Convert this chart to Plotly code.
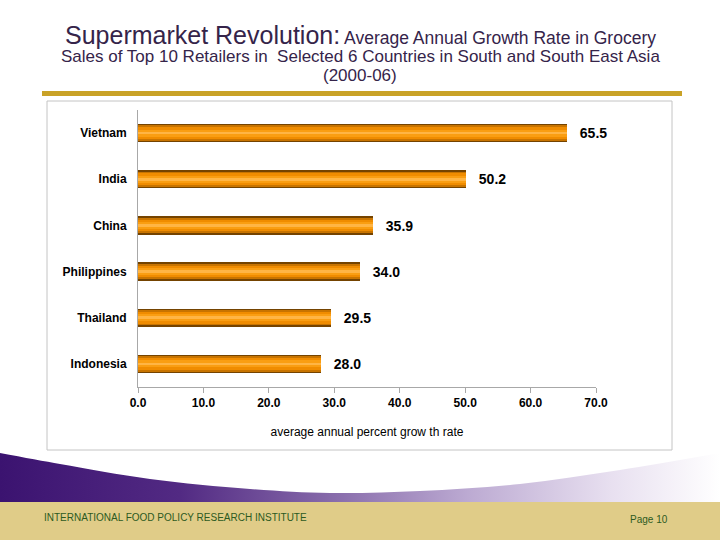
import plotly.graph_objects as go

countries = ["Vietnam", "India", "China", "Philippines", "Thailand", "Indonesia"]
growth = [65.5, 50.2, 35.9, 34.0, 29.5, 28.0]
x_ticks = [0, 10, 20, 30, 40, 50, 60, 70]
x_tick_labels = ["0.0", "10.0", "20.0", "30.0", "40.0", "50.0", "60.0", "70.0"]

W, H = 720, 540
FONT = "Liberation Sans, Arial, sans-serif"

fig = go.Figure()

# bar layers to imitate the cylinder shading
layers = [
    (0.40, "#744300"),
    (0.33, "#c87400"),
    (0.25, "#f08c00"),
    (0.15, "#fa9e12"),
    (0.06, "#ffb545"),
]
for i, (width, color) in enumerate(layers):
    fig.add_trace(go.Bar(
        y=countries, x=growth, orientation="h",
        width=width, marker=dict(color=color, line=dict(width=0)),
        text=[f"\u2002\u2009{v:.1f}" for v in growth] if i == 0 else None,
        textposition="outside" if i == 0 else "none",
        textfont=dict(family=FONT, size=14, color="#000000", weight="bold"),
        cliponaxis=False, hoverinfo="skip", showlegend=False,
        xaxis="x", yaxis="y",
    ))

# decorative purple swoosh above footer (paper-pixel overlay axes)
sw_x = [0, 60, 150, 250, 330, 420, 520, 620, 720]
sw_y = [453, 464, 479, 489, 493, 491, 484, 470, 453]
fig.add_trace(go.Scatter(x=[0, 720], y=[502, 502], mode="lines",
                         line=dict(width=0), xaxis="x2", yaxis="y2",
                         hoverinfo="skip", showlegend=False))
fig.add_trace(go.Scatter(
    x=sw_x, y=sw_y, mode="lines", line=dict(width=0, shape="spline"),
    fill="tonexty",
    fillgradient=dict(type="horizontal", start=0, stop=720,
                      colorscale=[[0, "#3b1370"], [0.25, "#522a83"], [0.45, "#8467a8"],
                                  [0.65, "#bcaad2"], [0.85, "#e8e0f0"], [1, "#ffffff"]]),
    xaxis="x2", yaxis="y2", hoverinfo="skip", showlegend=False))

def px(x):
    return x / W

def py(y):
    return 1 - y / H

shapes = [
    dict(type="rect", xref="paper", yref="paper", x0=0, x1=1, y0=0, y1=py(502),
         fillcolor="#e0cc88", line=dict(width=0), layer="below"),
    dict(type="rect", xref="paper", yref="paper", x0=px(42), x1=px(682), y0=py(96), y1=py(91),
         fillcolor="#c9a227", line=dict(width=0), layer="below"),
    dict(type="rect", xref="paper", yref="paper", x0=px(47), x1=px(672), y0=py(450), y1=py(101),
         line=dict(color="#c4c4c4", width=1), fillcolor="rgba(0,0,0,0)", layer="below"),
]

TITLE_C = "#35244a"
annotations = [
    dict(xref="paper", yref="paper", x=0.5, y=py(35), xanchor="center", yanchor="middle",
         showarrow=False, font=dict(family=FONT, size=17.5, color=TITLE_C),
         text="<span style='font-size:25px'>Supermarket Revolution:</span> Average Annual Growth Rate in Grocery"),
    dict(xref="paper", yref="paper", x=0.5, y=py(56), xanchor="center", yanchor="middle",
         showarrow=False, font=dict(family=FONT, size=17, color=TITLE_C),
         text="Sales of Top 10 Retailers in  Selected 6 Countries in South and South East Asia"),
    dict(xref="paper", yref="paper", x=0.5, y=py(76), xanchor="center", yanchor="middle",
         showarrow=False, font=dict(family=FONT, size=17, color=TITLE_C),
         text="(2000-06)"),
    dict(xref="paper", yref="paper", x=px(42), y=py(517), xanchor="left", yanchor="middle",
         showarrow=False, font=dict(family=FONT, size=10, color="#2c5a22"),
         text="INTERNATIONAL FOOD POLICY RESEARCH INSTITUTE"),
    dict(xref="paper", yref="paper", x=px(670), y=py(519), xanchor="right", yanchor="middle",
         showarrow=False, font=dict(family=FONT, size=10, color="#2c5a22"),
         text="Page 10"),
]

fig.update_layout(
    width=W, height=H,
    margin=dict(l=0, r=0, t=0, b=0, autoexpand=False),
    paper_bgcolor="white", plot_bgcolor="rgba(0,0,0,0)",
    barmode="overlay", bargap=0,
    shapes=shapes, annotations=annotations,
    xaxis=dict(domain=[px(138), px(596)], range=[0, 70], tickvals=x_ticks, ticktext=x_tick_labels,
               showgrid=False, zeroline=False, showline=True, linecolor="#a8a8a8", linewidth=1,
               ticks="outside", ticklen=5, tickcolor="#a8a8a8", automargin=False,
               tickfont=dict(family=FONT, size=12, color="#000000", weight="bold"),
               title=dict(text="average annual percent grow th rate", standoff=18,
                          font=dict(family=FONT, size=12, color="#000000")),
               anchor="y", fixedrange=True),
    yaxis=dict(domain=[py(387), py(110)], autorange="reversed", categoryorder="array",
               categoryarray=countries, showgrid=False, zeroline=False, showline=True,
               linecolor="#a8a8a8", linewidth=1, ticks="", ticklabelstandoff=8, automargin=False,
               tickfont=dict(family=FONT, size=12, color="#000000", weight="bold"),
               anchor="x", fixedrange=True),
    xaxis2=dict(domain=[0, 1], range=[0, 720], visible=False, anchor="y2", fixedrange=True),
    yaxis2=dict(domain=[0, 1], range=[540, 0], visible=False, anchor="x2", fixedrange=True),
)

fig.write_html(
    "out.html",
    config={"displayModeBar": False},
    post_script="document.body.style.margin='0';document.body.style.padding='0';"
                "document.body.style.overflow='hidden';",
)
